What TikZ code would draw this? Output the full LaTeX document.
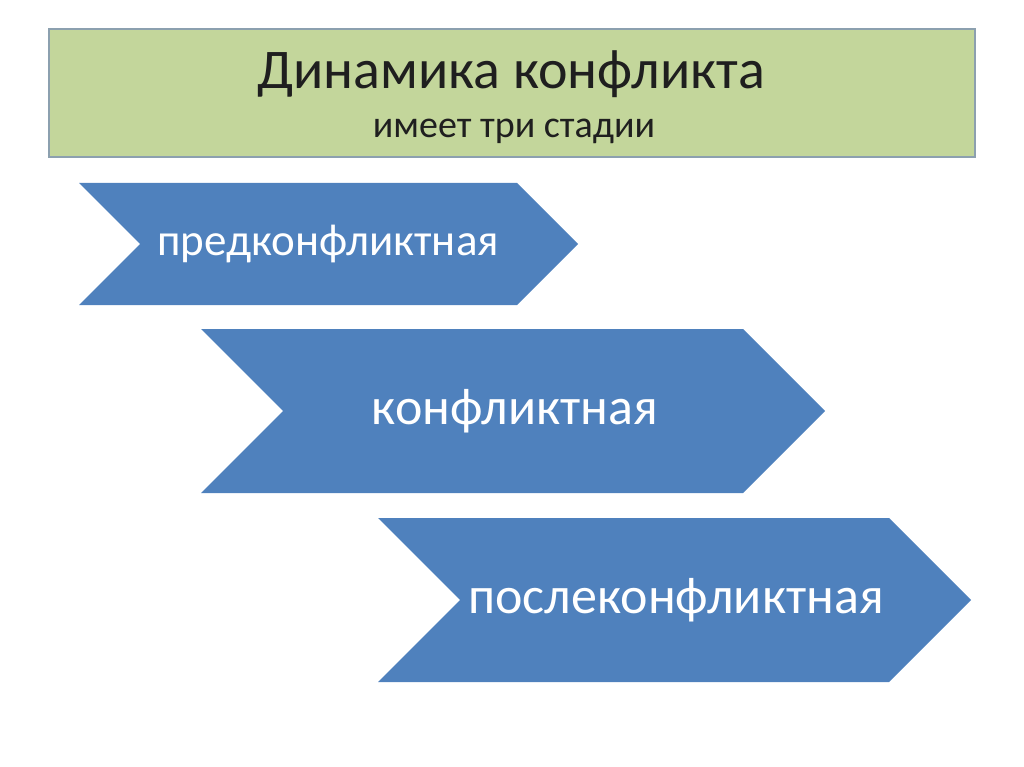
\documentclass[tikz,border=0pt]{standalone}
\usepackage{fontspec}
\setmainfont{Carlito}
\usepackage{tikz}
\usetikzlibrary{shapes.symbols, positioning}
\definecolor{titlegreen}{RGB}{195, 214, 155}
\definecolor{titleedge}{RGB}{140, 160, 175}
\definecolor{stageblue}{RGB}{79, 129, 189}

\begin{document}
\begin{tikzpicture}[x=1pt, y=-1pt,
			titlebox/.style={rectangle, draw=titleedge, line width=1.2pt, fill=titlegreen, minimum width=926pt, minimum height=128pt, inner sep=0pt},
			stage/.style={signal, signal to=east, signal from=west, signal pointer angle=90, fill=stageblue, text=white, inner sep=0pt, outer sep=0pt},
		]
		\useasboundingbox (0,0) rectangle (1024,767);
		
		% Title block
		\node[titlebox] (title) at (512,93) {};
		\node[font=\fontsize{56}{62}\selectfont, text=black!88] (maintitle) at (511,74) {Динамика конфликта};
		\node[font=\fontsize{38}{44}\selectfont, text=black!88] (subtitle) at (514,131) {имеет три стадии};
		
		% Stages
		\node[stage, minimum width=499pt, minimum height=122pt] (pre) at (328.5,244) {};
		\node[stage, minimum width=624pt, minimum height=164pt] (conf) at (513,411) {};
		\node[stage, minimum width=593pt, minimum height=164pt] (post) at (674.5,600) {};
		
		% Stage labels
		\node[font=\fontsize{45}{50}\selectfont, text=white] (prelabel) at (328,244) {предконфликтная};
		\node[font=\fontsize{52}{58}\selectfont, text=white] (conflabel) at (515,411) {конфликтная};
		\node[font=\fontsize{52}{58}\selectfont, text=white] (postlabel) at (676,600) {послеконфликтная};
		\end{tikzpicture}
\end{document}
